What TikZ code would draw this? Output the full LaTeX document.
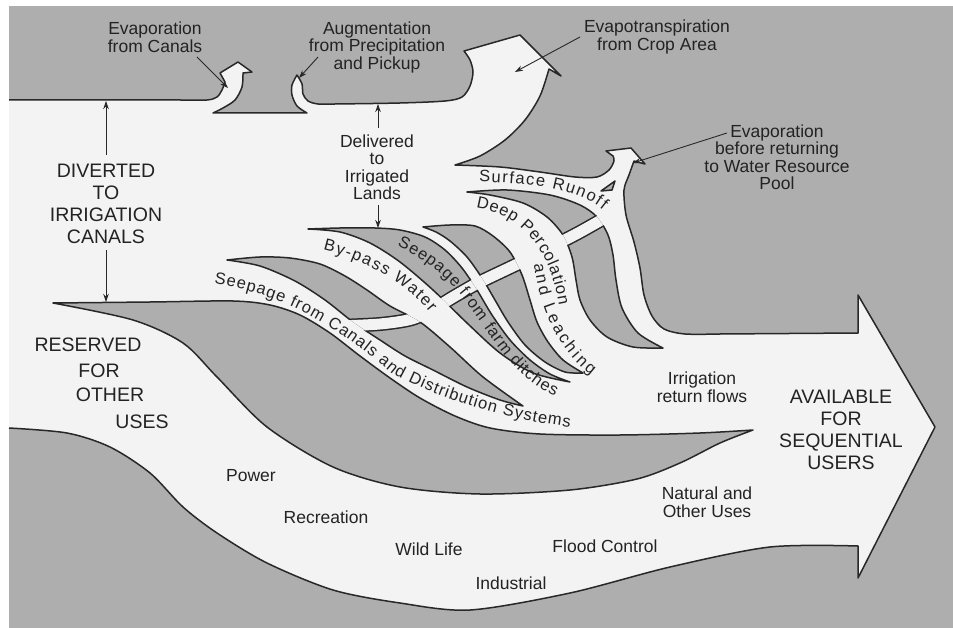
\documentclass[tikz,border=0pt]{standalone}
\usepackage{fontspec}
\setmainfont{Liberation Sans}
\usetikzlibrary{arrows.meta,decorations.text}
\definecolor{bggrey}{RGB}{174,174,174}
\definecolor{flow}{RGB}{243,243,243}
\definecolor{ink}{RGB}{40,40,40}
\definecolor{txt}{RGB}{35,35,35}
\newcommand\lblfont{\fontsize{17.5}{17.5}\selectfont}
\newcommand\capsfont{\fontsize{19.5}{21.8}\selectfont}
\newcommand\curvefont{\fontsize{16.5}{16.5}\selectfont}
% outer boundary of the white flow region (open, left edge at image border)
\newcommand\wrpath{plot[smooth] coordinates {(9,100) (120,100) (180,100) (207,100) (217,97) (222,90) (225,82)}
 -- (220,73) -- (238,62) -- (252,72) -- (243,73)
 -- plot[smooth] coordinates {(243,73) (242,87) (235,100) (223,108) (213,113)}
 -- (307,113)
 -- plot[smooth] coordinates {(307,113) (297,106) (292,95) (292,85) (297,75)}
 -- plot[smooth] coordinates {(297,75) (302,84) (303,94) (308,101) (318,104) (335,104) (400,103) (445,101) (462,97) (470,86) (473,72) (470,60) (464,51)}
 -- (520,35) -- (561,76) -- (549,69)
 -- plot[smooth] coordinates {(549,69) (540,96) (525,120) (505,140) (480,156) (455,165)}
 -- plot[smooth] coordinates {(455,165) (500,167) (540,172) (575,177) (597,177) (609,170) (614,161) (613,156)}
 -- (606,151) -- (631,148) -- (645,164) -- (634,161)
 -- plot[smooth] coordinates {(634,161) (629,175) (624,190) (626,215) (634,242) (640,268) (644,295) (652,316) (664,329) (685,334) (720,334)}
 -- (858,333) -- (858,295) -- (935,427) -- (858,578) -- (858,546)
 -- plot[smooth] coordinates {(858,546) (770,547) (670,567) (570,593) (470,610) (400,603) (333,590) (267,563) (217,533) (183,507) (150,473) (110,447) (67,433) (9,428)}}
% grey islands
\newcommand\isA{plot[smooth] coordinates {(53,303) (150,302) (233,301) (270,305) (300,315) (330,333) (360,356) (390,378) (420,398) (455,416) (490,428) (540,434) (620,435) (700,433) (753,430)} -- plot[smooth] coordinates {(753,430) (720,443) (680,463) (637,479) (570,490) (480,494) (400,487) (333,467) (267,427) (217,377) (183,343) (133,320) (53,303)} -- cycle}
\newcommand\isB{plot[smooth] coordinates {(227,260) (260,257) (290,258) (320,264) (345,276) (367,290) (390,306) (420,322) (450,347) (483,377) (523,406)} -- plot[smooth] coordinates {(523,406) (500,400) (467,387) (433,370) (405,356) (380,340) (353,322) (325,300) (295,281) (260,266) (227,260)} -- cycle}
\newcommand\isC{plot[smooth] coordinates {(308,229) (340,228) (375,228) (400,230) (425,237) (445,250) (462,268) (477,290) (492,315) (510,340) (530,360) (550,374) (570,382)} -- plot[smooth] coordinates {(570,382) (533,373) (500,353) (467,323) (433,290) (400,262) (370,243) (340,232) (308,229)} -- cycle}
\newcommand\isD{plot[smooth] coordinates {(423,227) (450,225) (475,226) (493,236) (510,252) (522,275) (530,300) (537,322) (548,342) (563,360) (583,373)} -- plot[smooth] coordinates {(583,373) (565,372) (545,362) (525,345) (508,322) (495,300) (482,278) (467,257) (450,241) (436,232) (423,227)} -- cycle}
\newcommand\isE{plot[smooth] coordinates {(467,192) (507,190) (550,195) (580,205) (597,217) (608,235) (613,255) (616,280) (622,308) (638,333) (663,348)} -- plot[smooth] coordinates {(663,348) (633,347) (607,337) (590,320) (580,300) (576,280) (572,257) (563,235) (547,217) (523,203) (490,195) (467,192)} -- cycle}
% diagonal connecting links
\newcommand\lnk{plot[smooth] coordinates {(338,326) (380,324) (412,319) (435,308) (455,296) (478,283) (505,270) (530,258) (555,245) (580,232) (610,215)}}
\begin{document}
\begin{tikzpicture}[x=1pt,y=-1pt,
  outline/.style={draw=ink, line width=1.5pt, line join=round},
  island/.style={fill=bggrey, draw=ink, line width=1.5pt, line join=round},
  lblarrow/.style={draw=ink, line width=0.9pt, -{Stealth[length=8pt,width=5.5pt]}},
  lbl/.style={font=\lblfont, align=center, inner sep=0pt, text=txt},
  caps/.style={font=\capsfont, align=center, inner sep=0pt, text=txt},
  curved/.style={decorate, decoration={text along path, text align=fit to path, text color=txt, text={|\curvefont|#1}}}]
\useasboundingbox (0,0) rectangle (953,628);
\fill[white] (0,0) rectangle (953,628);
\fill[bggrey] (9,6) rectangle (953,628);
% white flow region
\fill[flow] \wrpath -- cycle;
\draw[outline] \wrpath;
% islands
\path[island] \isA;
\path[island] \isB;
\path[island] \isC;
\path[island] \isD;
\path[island] \isE;
\path[island] (601,191) -- (615,181) -- (612,190) -- cycle;
% links across islands
\draw[flow, line width=11pt] \lnk;
\begin{scope}
  \clip \isB \isC \isD \isE;
  \draw[ink, line width=1.5pt, double=flow, double distance=11pt] \lnk;
\end{scope}
% labels
\node[lbl] (tEvCan) at (155,37) {Evaporation\\from Canals};
\node[lbl] (tAug) at (377,47) {Augmentation\\from Precipitation\\and Pickup};
\node[lbl] (tDel) at (377,167) {Delivered\\to\\Irrigated\\Lands};
\node[caps] (tDiv) at (106,204) {DIVERTED\\TO\\IRRIGATION\\CANALS};
\node[caps] (tRes1) at (88,345) {RESERVED};
\node[caps] (tRes2) at (99,371) {FOR};
\node[caps] (tRes3) at (110,395) {OTHER};
\node[caps] (tRes4) at (142,422) {USES};
\node[lbl] (tEvT) at (657,37) {Evapotranspiration\\from Crop Area};
\node[lbl] (tEvR) at (777,157) {Evaporation\\before returning\\to Water Resource\\Pool};
\node[lbl] (tIrr) at (702,387) {Irrigation\\return flows};
\node[caps] (tAv) at (841,430) {AVAILABLE\\FOR\\SEQUENTIAL\\USERS};
\node[lbl] (tNat) at (707,502) {Natural and\\Other Uses};
\node[lbl] (tFlood) at (605,546) {Flood Control};
\node[lbl] (tInd) at (511,583) {Industrial};
\node[lbl] (tPow) at (251,476) {Power};
\node[lbl] (tRec) at (326,517) {Recreation};
\node[lbl] (tWild) at (429,549) {Wild Life};
% label arrows
\coordinate (aEvCanS) at (197,57);  \coordinate (aEvCanE) at (228,88);
\coordinate (aAugS) at (318,57);    \coordinate (aAugE) at (299,78);
\coordinate (aDelUS) at (378,128);  \coordinate (aDelUE) at (378,104);
\coordinate (aDelDS) at (378,205);  \coordinate (aDelDE) at (378,228);
\coordinate (aDivUS) at (106,155);  \coordinate (aDivUE) at (106,101);
\coordinate (aDivDS) at (106,250);  \coordinate (aDivDE) at (106,302);
\coordinate (aEvTS) at (580,37);    \coordinate (aEvTE) at (515,72);
\coordinate (aEvRS) at (727,133);   \coordinate (aEvRE) at (633,163);
\draw[lblarrow] (aEvCanS) -- (aEvCanE);
\draw[lblarrow] (aAugS) -- (aAugE);
\draw[lblarrow] (aDelUS) -- (aDelUE);
\draw[lblarrow] (aDelDS) -- (aDelDE);
\draw[lblarrow] (aDivUS) -- (aDivUE);
\draw[lblarrow] (aDivDS) -- (aDivDE);
\draw[lblarrow] (aEvTS) -- (aEvTE);
\draw[lblarrow] (aEvRS) -- (aEvRE);
% curved labels
\path[curved={Surface Runoff}] (479,182) .. controls (530,183) and (578,189) .. (603,210);
\path[curved={Deep Percolation}] (476,208) .. controls (515,214) and (548,240) .. (559,305);
\path[curved={and Leaching}] (534,264) .. controls (540,310) and (558,350) .. (591,375);
\path[curved={By-pass Water}] (323,250) .. controls (365,260) and (405,282) .. (430,313);
\path[curved={Seepage from farm ditches}] (397,246) .. controls (437,265) and (458,289) .. (476,316) .. controls (496,344) and (516,378) .. (555,396);
\path[curved={Seepage from Canals and Distribution Systems}] (214,284) .. controls (290,295) and (340,330) .. (390,372) .. controls (440,400) and (510,420) .. (570,427);
\end{tikzpicture}
\end{document}
